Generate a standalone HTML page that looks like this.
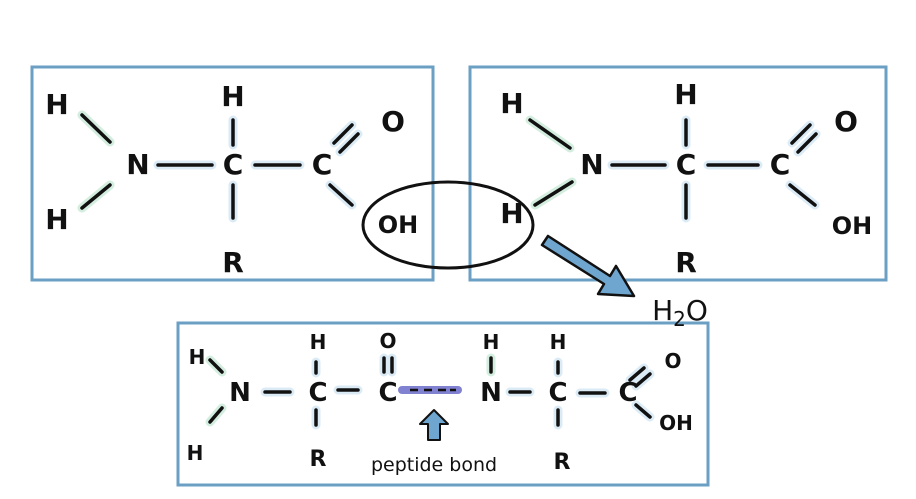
<!DOCTYPE html>
<html><head><style>body{margin:0;background:#fff}svg{display:block}</style></head><body>
<svg width="916" height="499" viewBox="0 0 916 499" xmlns="http://www.w3.org/2000/svg" font-family="Liberation Sans, sans-serif" fill="#111">
<g fill="none" stroke="#6b9fc4" stroke-width="3">
<rect x="32" y="67" width="401" height="213"/>
<rect x="470" y="67" width="416" height="213"/>
<rect x="178" y="323" width="530" height="162"/>
</g>
<g stroke-linecap="round" stroke-width="9" opacity="0.5" fill="none">
<path d="M82 115 L110 142 M82 208 L110 185 M530 120 L570 148 M535 205 L572 182 M210 360 L222 372 M210 422 L222 408 M491 358 V372" stroke="#a8dcc0"/>
<path d="M158 165 H212 M233 120 V145 M255 165 H300 M334 143 L352 125 M340 152 L358 134 M330 185 L352 205 M233 185 V218 M265 392 H290 M316 362 V373 M316 410 V425 M338 390 H358 M384 358 V372 M392 358 V372 M510 392 H530 M558 362 V373 M558 410 V425 M580 393 H605 M630 380 L644 368 M636 386 L650 374 M636 405 L650 417" stroke="#b9d9ee"/>
<path d="M612 165 H665 M686 120 V145 M708 165 H758 M792 143 L810 125 M798 152 L816 134 M790 185 L815 205 M686 185 V218" stroke="#b9d9ee"/>
</g>
<g stroke="#111" stroke-width="3.5" stroke-linecap="round" fill="none">
<path d="M82 115 L110 142 M82 208 L110 185 M158 165 H212 M233 120 V145 M255 165 H300 M334 143 L352 125 M340 152 L358 134 M330 185 L352 205 M233 185 V218"/>
<path d="M530 120 L570 148 M535 205 L572 182 M612 165 H665 M686 120 V145 M708 165 H758 M792 143 L810 125 M798 152 L816 134 M790 185 L815 205 M686 185 V218"/>
<path d="M210 360 L222 372 M210 422 L222 408 M265 392 H290 M316 362 V373 M316 410 V425 M338 390 H358 M384 358 V372 M392 358 V372 M491 358 V372 M510 392 H530 M558 362 V373 M558 410 V425 M580 393 H605 M630 380 L644 368 M636 386 L650 374 M636 405 L650 417"/>
</g>
<path d="M402 390 H458" stroke="#6a6cc8" stroke-width="8" stroke-linecap="round" opacity="0.85"/>
<path d="M410 390 H418 M424 390 H432 M438 390 H446 M450 390 H456" stroke="#111" stroke-width="2.5"/>
<ellipse cx="448" cy="225" rx="85" ry="43" fill="none" stroke="#111" stroke-width="3"/>
<path d="M548 236 L610 276 L616 266 L634 296 L598 294 L604 284 L542 245 Z" fill="#6fa6d0" stroke="#111" stroke-width="2.5" stroke-linejoin="round"/>
<path d="M434 410 L420 424 L428 424 L428 440 L440 440 L440 424 L448 424 Z" fill="#6fa6d0" stroke="#111" stroke-width="2" stroke-linejoin="round"/>
<g font-size="28" text-anchor="middle" font-weight="bold" font-family="DejaVu Sans, sans-serif">
<text x="57" y="114">H</text><text x="57" y="229">H</text><text x="138" y="174">N</text>
<text x="233" y="106">H</text><text x="233" y="174">C</text><text x="233" y="272">R</text>
<text x="322" y="174">C</text><text x="393" y="131">O</text><text x="398" y="233" font-size="24">OH</text>
<text x="512" y="223">H</text><text x="512" y="113">H</text><text x="592" y="174">N</text>
<text x="686" y="104">H</text><text x="686" y="174">C</text><text x="686" y="272">R</text>
<text x="780" y="174">C</text><text x="846" y="131">O</text><text x="852" y="234" font-size="24">OH</text>
<text x="680" y="320" font-size="28" font-weight="normal">H<tspan font-size="20" dy="6">2</tspan><tspan dy="-6">O</tspan></text>
</g>
<g font-size="20" text-anchor="middle" font-weight="bold" font-family="DejaVu Sans, sans-serif">
<text x="197" y="364">H</text><text x="240" y="401" font-size="26">N</text><text x="195" y="460">H</text>
<text x="318" y="349">H</text><text x="318" y="401" font-size="26">C</text><text x="318" y="466" font-size="22">R</text>
<text x="388" y="348">O</text><text x="388" y="401" font-size="26">C</text>
<text x="491" y="401" font-size="26">N</text><text x="491" y="349">H</text>
<text x="558" y="349">H</text><text x="558" y="401" font-size="26">C</text><text x="562" y="469" font-size="22">R</text>
<text x="628" y="401" font-size="26">C</text><text x="673" y="368">O</text><text x="676" y="430">OH</text>
<text x="434" y="471" font-size="19" font-weight="normal">peptide bond</text>
</g>
</svg>
</body></html>
